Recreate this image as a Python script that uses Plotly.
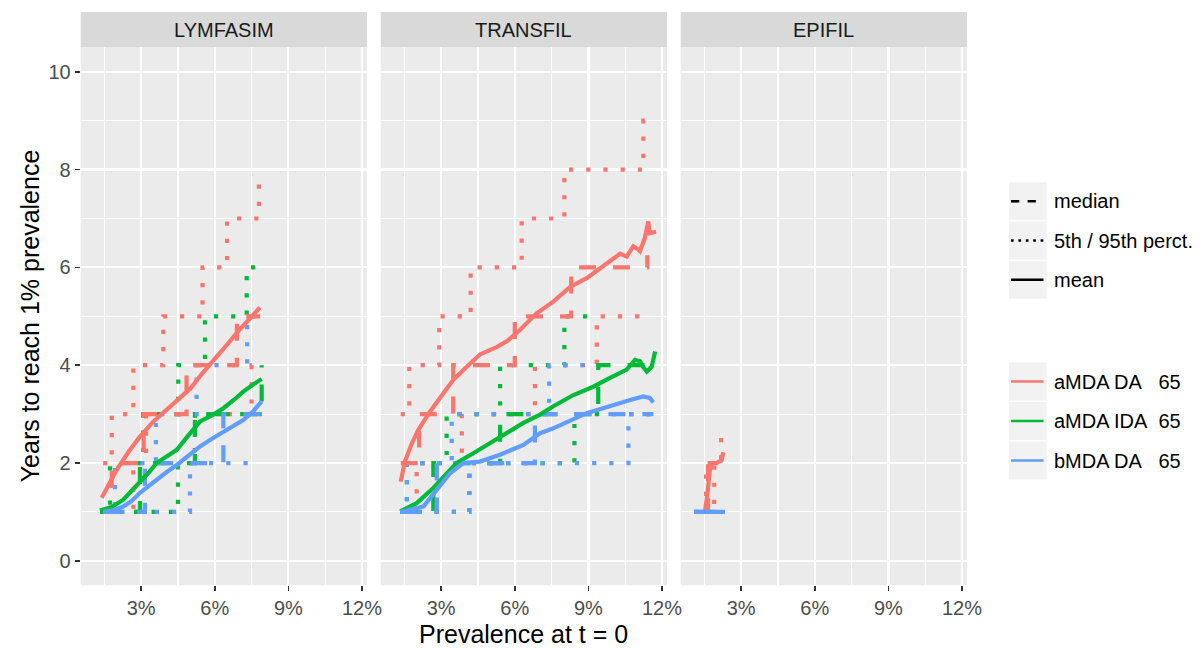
import plotly.graph_objects as go

W, H = 1203, 648

# ---------------- data ----------------
MODELS = ["LYMFASIM", "TRANSFIL", "EPIFIL"]
SCENARIOS = ["aMDA DA\u00a0\u00a0\u00a065", "aMDA IDA\u00a0\u00a065", "bMDA DA\u00a0\u00a0\u00a065"]
COLORS = ["#F8766D", "#00BA38", "#619CFF"]
STAT_LABELS = ["median", "5th / 95th perct.", "mean"]
X_TICKS = [3, 6, 9, 12]
X_TICKTEXT = ["3%", "6%", "9%", "12%"]
X_MINOR = [1.5, 4.5, 7.5, 10.5]
Y_TICKS = [0, 2, 4, 6, 8, 10]
Y_MINOR = [1, 3, 5, 7, 9]

# LYMFASIM
lym_da_mean_x = [1.39, 1.7, 2.0, 2.5, 2.95, 3.5, 4.0, 4.58, 5.0, 5.5, 6.0, 6.5, 7.0, 7.5, 7.84]
lym_da_mean_y = [1.29, 1.58, 1.86, 2.24, 2.54, 2.85, 3.08, 3.32, 3.52, 3.84, 4.12, 4.42, 4.72, 4.98, 5.18]
lym_da_med_x = [1.4, 1.8, 3.1, 4.85, 6.9, 7.85]
lym_da_med_y = [1, 2, 3, 4, 5, 5]
lym_da_p95_x = [1.45, 1.8, 2.68, 3.9, 5.5, 6.5, 7.8, 7.8]
lym_da_p95_y = [2, 3, 4, 5, 6, 7, 7, 7.77]
lym_da_p05_x = [1.4, 2.68, 3.2, 7.5, 7.85]
lym_da_p05_y = [1, 2, 3, 4, 4]

lym_ida_mean_x = [1.32, 1.8, 2.27, 2.6, 2.95, 3.3, 3.63, 4.0, 4.45, 4.9, 5.4, 5.9, 6.35, 6.8, 7.16, 7.55, 7.91]
lym_ida_mean_y = [1.03, 1.1, 1.25, 1.42, 1.62, 1.8, 2.0, 2.13, 2.27, 2.55, 2.85, 2.98, 3.12, 3.3, 3.46, 3.6, 3.72]
lym_ida_med_x = [1.32, 2.95, 5.19, 7.91, 7.91]
lym_ida_med_y = [1, 2, 3, 3, 4]
lym_ida_p95_x = [1.32, 1.73, 3.08, 4.51, 5.6, 7.3, 7.85]
lym_ida_p95_y = [1, 2, 3, 4, 5, 6, 6]
lym_ida_p05_x = [1.32, 4.5, 5.19, 7.91]
lym_ida_p05_y = [1, 2, 3, 3]

lym_bda_mean_x = [1.45, 1.9, 2.27, 2.6, 2.95, 3.3, 3.63, 4.0, 4.45, 4.9, 5.4, 5.9, 6.35, 6.8, 7.16, 7.55, 7.91]
lym_bda_mean_y = [1.0, 1.04, 1.11, 1.22, 1.39, 1.53, 1.66, 1.8, 1.96, 2.15, 2.34, 2.5, 2.64, 2.77, 2.88, 3.05, 3.26]
lym_bda_med_x = [1.45, 3.15, 6.35, 7.9, 7.9]
lym_bda_med_y = [1, 2, 3, 3, 3.25]
lym_bda_p95_x = [1.45, 1.93, 3.6, 5.26, 7.32, 7.8]
lym_bda_p95_y = [1, 2, 3, 4, 5, 5]
lym_bda_p05_x = [1.45, 4.99, 7.85]
lym_bda_p05_y = [1, 2, 2]

# TRANSFIL
tra_da_mean_x = [1.35, 1.52, 1.8, 2.07, 2.54, 3.0, 3.49, 4.0, 4.58, 5.26, 5.7, 6.21, 6.89, 7.57, 8.25,
                 8.93, 9.4, 9.75, 10.29, 10.56, 10.83, 11.0, 11.1, 11.3, 11.44, 11.5, 11.65, 11.76]
tra_da_mean_y = [1.62, 2.03, 2.4, 2.68, 3.05, 3.35, 3.70, 3.95, 4.22, 4.37, 4.5, 4.72, 5.06, 5.30, 5.6,
                 5.78, 5.95, 6.1, 6.28, 6.22, 6.43, 6.38, 6.33, 6.6, 6.94, 6.7, 6.71, 6.73]
tra_da_med_x = [1.35, 2.1, 3.49, 6.0, 8.3, 11.4, 11.4]
tra_da_med_y = [2, 3, 4, 5, 6, 6, 6.25]
tra_da_p95_x = [1.35, 1.7, 2.92, 4.2, 6.28, 8.02, 11.24, 11.75]
tra_da_p95_y = [3, 4, 5, 6, 7, 8, 9, 9]
tra_da_p05_x = [1.35, 2.0, 3.84, 6.82, 9.34, 11.3]
tra_da_p05_y = [1, 2, 3, 4, 5, 5]

tra_ida_mean_x = [1.33, 2.0, 2.68, 3.22, 3.63, 4.31, 4.99, 5.67, 6.35, 7.03, 7.57, 8.39, 9.2, 9.88,
                  10.56, 10.9, 11.1, 11.25, 11.38, 11.58, 11.72]
tra_ida_mean_y = [1.01, 1.18, 1.49, 1.79, 2.0, 2.2, 2.41, 2.62, 2.82, 2.99, 3.16, 3.39, 3.56, 3.74,
                  3.91, 4.11, 4.08, 3.95, 3.87, 3.97, 4.28]
tra_ida_med_x = [1.33, 2.68, 5.4, 9.4, 11.72]
tra_ida_med_y = [1, 2, 3, 4, 4]
tra_ida_p95_x = [1.33, 1.6, 3.22, 5.4, 8.02, 9.1]
tra_ida_p95_y = [1, 2, 3, 4, 5, 5]
tra_ida_p05_x = [1.33, 4.15, 8.43, 11.72]
tra_ida_p05_y = [1, 2, 3, 3]

tra_bda_mean_x = [1.33, 2.27, 2.82, 3.36, 3.9, 4.58, 5.4, 6.35, 7.03, 7.57, 8.93, 9.88, 10.7, 11.24, 11.5, 11.65]
tra_bda_mean_y = [1.0, 1.11, 1.45, 1.79, 2.0, 2.03, 2.17, 2.37, 2.61, 2.71, 3.02, 3.17, 3.29, 3.36, 3.33, 3.24]
tra_bda_med_x = [1.33, 2.82, 6.82, 11.65]
tra_bda_med_y = [1, 2, 3, 3]
tra_bda_p95_x = [1.33, 1.6, 3.43, 7.4, 9.6]
tra_bda_p95_y = [1, 2, 3, 4, 4]
tra_bda_p05_x = [1.33, 4.15, 10.63, 11.65]
tra_bda_p05_y = [1, 2, 3, 3]

# EPIFIL
epi_da_mean_x = [1.52, 1.58, 1.62, 1.67, 1.72, 1.8, 1.9, 2.0, 2.1, 2.2, 2.27]
epi_da_mean_y = [1.0, 1.15, 1.35, 1.6, 1.85, 2.0, 2.0, 2.0, 2.03, 2.05, 2.22]
epi_da_med_x = [1.52, 1.65, 2.27]
epi_da_med_y = [1, 2, 2]
epi_da_p95_x = [1.52, 1.57, 2.18, 2.18]
epi_da_p95_y = [1, 2, 2, 2.75]
epi_da_p05_x = [1.52, 1.9, 2.27]
epi_da_p05_y = [1, 2, 2]

epi_bda_x = [1.08, 2.34]
epi_bda_y = [1, 1]

# table: (panel, scenario, kind, x, y)
SERIES = [
    (0, 0, "p", lym_da_p05_x, lym_da_p05_y), (0, 0, "p", lym_da_p95_x, lym_da_p95_y),
    (0, 1, "p", lym_ida_p05_x, lym_ida_p05_y), (0, 1, "p", lym_ida_p95_x, lym_ida_p95_y),
    (0, 2, "p", lym_bda_p05_x, lym_bda_p05_y), (0, 2, "p", lym_bda_p95_x, lym_bda_p95_y),
    (0, 0, "med", lym_da_med_x, lym_da_med_y),
    (0, 1, "med", lym_ida_med_x, lym_ida_med_y),
    (0, 2, "med", lym_bda_med_x, lym_bda_med_y),
    (0, 0, "mean", lym_da_mean_x, lym_da_mean_y),
    (0, 1, "mean", lym_ida_mean_x, lym_ida_mean_y),
    (0, 2, "mean", lym_bda_mean_x, lym_bda_mean_y),

    (1, 0, "p", tra_da_p05_x, tra_da_p05_y), (1, 0, "p", tra_da_p95_x, tra_da_p95_y),
    (1, 1, "p", tra_ida_p05_x, tra_ida_p05_y), (1, 1, "p", tra_ida_p95_x, tra_ida_p95_y),
    (1, 2, "p", tra_bda_p05_x, tra_bda_p05_y), (1, 2, "p", tra_bda_p95_x, tra_bda_p95_y),
    (1, 0, "med", tra_da_med_x, tra_da_med_y),
    (1, 1, "med", tra_ida_med_x, tra_ida_med_y),
    (1, 2, "med", tra_bda_med_x, tra_bda_med_y),
    (1, 0, "mean", tra_da_mean_x, tra_da_mean_y),
    (1, 1, "mean", tra_ida_mean_x, tra_ida_mean_y),
    (1, 2, "mean", tra_bda_mean_x, tra_bda_mean_y),

    (2, 0, "p", epi_da_p05_x, epi_da_p05_y), (2, 0, "p", epi_da_p95_x, epi_da_p95_y),
    (2, 2, "p", epi_bda_x, epi_bda_y),
    (2, 0, "med", epi_da_med_x, epi_da_med_y),
    (2, 2, "med", epi_bda_x, epi_bda_y),
    (2, 0, "mean", epi_da_mean_x, epi_da_mean_y),
    (2, 2, "mean", epi_bda_x, epi_bda_y),
]

# ---------------- layout constants ----------------
PANEL_X = [(80.7, 367.0), (380.7, 667.0), (680.7, 967.0)]
PANEL_TOP, PANEL_BOTTOM = 47.3, 585.3
STRIP_TOP = 12.0
X_RANGE = [0.534, 12.204]
Y_RANGE = [-0.5, 10.5]
FONT = "Liberation Sans, Arial, sans-serif"
LW = 4.2


def fx(px):
    return px / W


def fy(py):
    return 1 - py / H


fig = go.Figure()

for panel, scen, kind, xs, ys in SERIES:
    sfx = "" if panel == 0 else str(panel + 1)
    if kind == "mean":
        line = dict(color=COLORS[scen], width=LW)
    elif kind == "med":
        line = dict(color=COLORS[scen], width=LW, dash="17px,17px", shape="hv")
    else:
        line = dict(color=COLORS[scen], width=LW, dash="4.2px,13px", shape="hv")
    fig.add_trace(go.Scatter(x=xs, y=ys, mode="lines", line=line, xaxis="x" + sfx, yaxis="y" + sfx,
                             showlegend=False, hoverinfo="skip"))

layout = dict(
    width=W, height=H, autosize=False,
    margin=dict(l=0, r=0, t=0, b=0, pad=0, autoexpand=False),
    paper_bgcolor="white", plot_bgcolor="#EBEBEB",
    font=dict(family=FONT, size=20, color="#4D4D4D"),
    showlegend=False, hovermode=False,
)

for i in range(3):
    sfx = "" if i == 0 else str(i + 1)
    layout["xaxis" + sfx] = dict(
        domain=[fx(PANEL_X[i][0]), fx(PANEL_X[i][1])], range=X_RANGE, anchor="y" + sfx,
        tickmode="array", tickvals=X_TICKS, ticktext=X_TICKTEXT, automargin=False,
        showgrid=True, gridcolor="white", gridwidth=2.2, zeroline=False, showline=False,
        ticks="outside", ticklen=5, tickwidth=1.6, tickcolor="#333333",
        tickfont=dict(family=FONT, size=20, color="#4D4D4D"),
        minor=dict(tickmode="array", tickvals=X_MINOR, showgrid=True, gridcolor="white", gridwidth=1.1),
        fixedrange=True,
    )
    layout["yaxis" + sfx] = dict(
        domain=[fy(PANEL_BOTTOM), fy(PANEL_TOP)], range=Y_RANGE, anchor="x" + sfx,
        tickmode="array", tickvals=Y_TICKS, automargin=False,
        showgrid=True, gridcolor="white", gridwidth=2.2, zeroline=False, showline=False,
        ticks="outside" if i == 0 else "", ticklen=5, tickwidth=1.6, tickcolor="#333333",
        showticklabels=(i == 0),
        tickfont=dict(family=FONT, size=20, color="#4D4D4D"),
        minor=dict(tickmode="array", tickvals=Y_MINOR, showgrid=True, gridcolor="white", gridwidth=1.1),
        fixedrange=True,
    )
    if i > 0:
        layout["yaxis" + sfx]["matches"] = "y"

shapes = []
annotations = []

# strips
for i, name in enumerate(MODELS):
    x0, x1 = PANEL_X[i]
    shapes.append(dict(type="rect", xref="paper", yref="paper", x0=fx(x0), x1=fx(x1),
                       y0=fy(PANEL_TOP), y1=fy(STRIP_TOP), fillcolor="#D9D9D9", line=dict(width=0),
                       layer="below"))
    annotations.append(dict(xref="paper", yref="paper", x=fx((x0 + x1) / 2), y=fy((STRIP_TOP + PANEL_TOP) / 2),
                            text=name, showarrow=False, xanchor="center", yanchor="middle",
                            font=dict(family=FONT, size=20, color="#1A1A1A")))

# axis titles
annotations.append(dict(xref="paper", yref="paper", x=fx((PANEL_X[0][0] + PANEL_X[2][1]) / 2), y=fy(634),
                        text="Prevalence at t = 0", showarrow=False, xanchor="center", yanchor="middle",
                        font=dict(family=FONT, size=25, color="black")))
annotations.append(dict(xref="paper", yref="paper", x=fx(30), y=fy((PANEL_TOP + PANEL_BOTTOM) / 2),
                        text="Years to reach 1% prevalence", showarrow=False, textangle=-90,
                        xanchor="center", yanchor="middle",
                        font=dict(family=FONT, size=25, color="black")))

# legends (drawn as keys)
KEY_X0, KEY_X1 = 1009.0, 1046.7
KEY_H = 38.0
LEG1_TOPS = [182.3, 221.5, 260.8]
LEG2_TOPS = [362.5, 402.0, 441.5]
KEY_DASH = ["8.3px,8.3px", "2.7px,4.7px", "solid"]

for k, top in enumerate(LEG1_TOPS):
    shapes.append(dict(type="rect", xref="paper", yref="paper", x0=fx(KEY_X0), x1=fx(KEY_X1),
                       y0=fy(top + KEY_H), y1=fy(top), fillcolor="#F2F2F2", line=dict(width=0)))
    cy = top + KEY_H / 2
    shapes.append(dict(type="line", xref="paper", yref="paper", x0=fx(1011), x1=fx(1043.5),
                       y0=fy(cy), y1=fy(cy), line=dict(color="black", width=2.6, dash=KEY_DASH[k])))
    annotations.append(dict(xref="paper", yref="paper", x=fx(1052), y=fy(cy), text=STAT_LABELS[k],
                            showarrow=False, xanchor="left", yanchor="middle",
                            font=dict(family=FONT, size=20, color="black")))

for k, top in enumerate(LEG2_TOPS):
    shapes.append(dict(type="rect", xref="paper", yref="paper", x0=fx(KEY_X0), x1=fx(KEY_X1),
                       y0=fy(top + KEY_H), y1=fy(top), fillcolor="#F2F2F2", line=dict(width=0)))
    cy = top + KEY_H / 2
    shapes.append(dict(type="line", xref="paper", yref="paper", x0=fx(1011), x1=fx(1043.5),
                       y0=fy(cy), y1=fy(cy), line=dict(color=COLORS[k], width=2.3)))
    annotations.append(dict(xref="paper", yref="paper", x=fx(1052), y=fy(cy), text=SCENARIOS[k],
                            showarrow=False, xanchor="left", yanchor="middle",
                            font=dict(family=FONT, size=20, color="black")))

layout["shapes"] = shapes
layout["annotations"] = annotations
fig.update_layout(**layout)

fig.write_html("out.html", config={"displayModeBar": False, "staticPlot": True})
